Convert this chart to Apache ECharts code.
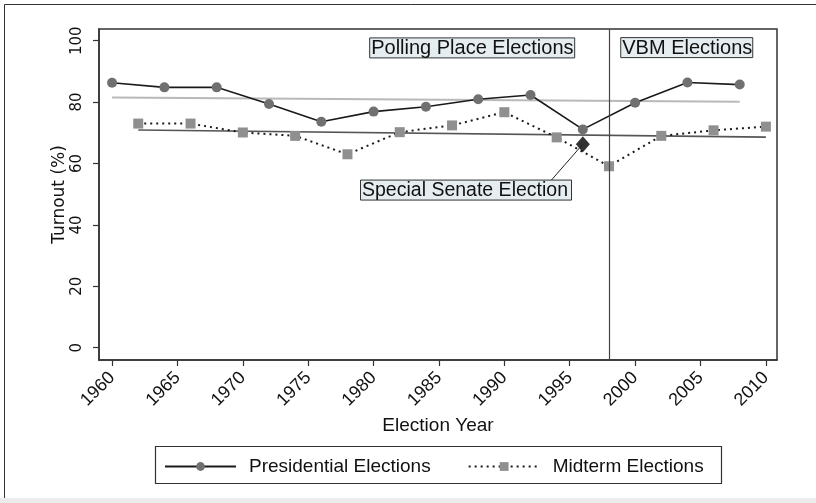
<!DOCTYPE html>
<html>
<head>
<meta charset="utf-8">
<script src="https://cdn.jsdelivr.net/npm/echarts@6/dist/echarts.min.js"></script>
<style>
  html, body { margin: 0; padding: 0; background: #fff; }
  #chart { width: 816px; height: 503px; }
</style>
</head>
<body>
<div id="chart"></div>
<script>
// ---- data ----
var presYears   = [1960, 1964, 1968, 1972, 1976, 1980, 1984, 1988, 1992, 1996, 2000, 2004, 2008];
var presTurnout = [86.3, 84.8, 84.8, 79.4, 73.6, 76.9, 78.5, 80.9, 82.3, 71.1, 79.8, 86.4, 85.7];
var midYears    = [1962, 1966, 1970, 1974, 1978, 1982, 1986, 1990, 1994, 1998, 2002, 2006, 2010];
var midTurnout  = [73.0, 73.0, 70.1, 69.0, 63.0, 70.2, 72.4, 76.7, 68.5, 59.1, 69.0, 70.8, 72.0];
var specialYear = 1996;
var specialTurnout = 66.3;
var presFitYears = [1960, 2008];
var presFitValues = [81.5, 80.1];
var midFitYears = [1962, 2010];
var midFitValues = [70.9, 68.6];
var vbmStartYear = 1998;
var xTicks = [1960, 1965, 1970, 1975, 1980, 1985, 1990, 1995, 2000, 2005, 2010];
var yTicks = [0, 20, 40, 60, 80, 100];
var seriesNames = ['Presidential Elections', 'Midterm Elections'];
var annotationTexts = ['Polling Place Elections', 'VBM Elections', 'Special Senate Election'];

function zip(a, b) { return a.map(function (v, i) { return [v, b[i]]; }); }

var chart = echarts.init(document.getElementById('chart'), null, { renderer: 'canvas' });
var sansFont = '"Liberation Sans", Arial, sans-serif';
var verdFont = '"DejaVu Sans", Verdana, sans-serif';

var option = {
  animation: false,
  backgroundColor: '#ffffff',
  grid: {
    left: 99, right: 39, top: 29, bottom: 143,
    show: true, borderColor: '#333', borderWidth: 1.5, backgroundColor: 'transparent'
  },
  xAxis: {
    type: 'value', min: 1959.0, max: 2010.85,
    name: 'Election Year', nameLocation: 'middle', nameGap: 54,
    nameTextStyle: { fontFamily: sansFont, fontSize: 19, color: '#111' },
    axisLine: { show: true, onZero: false, lineStyle: { color: '#333', width: 1.5 } },
    axisTick: { show: true, length: 6, customValues: xTicks, lineStyle: { color: '#333', width: 1.2 } },
    axisLabel: { rotate: 45, margin: 15, customValues: xTicks, fontFamily: sansFont, fontSize: 18, color: '#111',
      formatter: function (v) { return String(v); } },
    splitLine: { show: false }
  },
  yAxis: {
    type: 'value', min: -4.0, max: 103.8,
    name: 'Turnout (%)', nameLocation: 'middle', nameGap: 31, nameRotate: 90, nameMoveOverlap: false,
    nameTextStyle: { fontFamily: verdFont, fontSize: 17, color: '#111' },
    axisLine: { show: true, onZero: false, lineStyle: { color: '#333', width: 1.5 } },
    axisTick: { show: true, length: 6, customValues: yTicks, lineStyle: { color: '#333', width: 1.2 } },
    axisLabel: { rotate: 90, margin: 14, customValues: yTicks, fontFamily: verdFont, fontSize: 15, color: '#111',
      formatter: function (v) { return String(v); } },
    splitLine: { show: false }
  },
  legend: {
    data: seriesNames,
    left: 164, top: 457, padding: 0,
    itemWidth: 71, itemHeight: 11, itemGap: 37,
    textStyle: { fontFamily: sansFont, fontSize: 19, color: '#111', padding: [0, 0, 0, 8] }
  },
  series: [
    {
      name: 'presFit', type: 'line', data: zip(presFitYears, presFitValues),
      symbol: 'none', lineStyle: { color: '#b9b9b9', width: 2 }, silent: true, z: 1
    },
    {
      name: 'midFit', type: 'line', data: zip(midFitYears, midFitValues),
      symbol: 'none', lineStyle: { color: '#555', width: 1.6 }, silent: true, z: 1
    },
    {
      name: seriesNames[0], type: 'line', data: zip(presYears, presTurnout),
      symbol: 'circle', symbolSize: 10,
      lineStyle: { color: '#1a1a1a', width: 1.6 },
      itemStyle: { color: '#707070' }, z: 3,
      markLine: {
        silent: true, symbol: 'none', label: { show: false },
        lineStyle: { color: '#444', width: 1.2, type: 'solid' },
        data: [{ xAxis: vbmStartYear }]
      }
    },
    {
      name: seriesNames[1], type: 'line', data: zip(midYears, midTurnout),
      symbol: 'rect', symbolSize: 10,
      lineStyle: { color: '#1a1a1a', width: 2, type: [2, 4] },
      itemStyle: { color: '#8f8f8f' }, z: 3
    },
    {
      name: 'special', type: 'scatter', data: [[specialYear, specialTurnout]],
      symbol: 'diamond', symbolSize: [14, 16], itemStyle: { color: '#000' }, z: 4
    }
  ]
};
chart.setOption(option);

function px(x, y) { return chart.convertToPixel({ gridIndex: 0 }, [x, y]); }

// annotation boxes anchored in data space
var boxStyle = { fill: '#e5edf1', stroke: '#333', lineWidth: 1 };
function textBox(x0, y0, w, h, txt, fs) {
  return {
    type: 'group', x: x0, y: y0, children: [
      { type: 'rect', shape: { x: 0, y: 0, width: w, height: h }, style: boxStyle, z: 10 },
      { type: 'text', x: 1.5, y: h / 2 + 1, style: { text: txt, font: fs + 'px ' + sansFont, fill: '#111', textVerticalAlign: 'middle' }, z: 11 }
    ]
  };
}
var pA = px(1979.7, 100.9);
var pB = px(1998.9, 101.0);
var pC = px(1979.0, 54.6);
var pD = px(1993.6, 54.6);
var pS = px(specialYear, specialTurnout);

chart.setOption({
  graphic: [
    // outer frame
    { type: 'line', shape: { x1: 4.5, y1: 4.5, x2: 4.5, y2: 498 }, style: { stroke: '#333', lineWidth: 1 } },
    { type: 'line', shape: { x1: 4.5, y1: 4.5, x2: 816, y2: 4.5 }, style: { stroke: '#333', lineWidth: 1 } },
    { type: 'rect', shape: { x: 0, y: 498, width: 816, height: 5 }, style: { fill: '#ececec' } },
    // legend frame
    { type: 'rect', shape: { x: 155.5, y: 446.5, width: 566, height: 37 }, style: { fill: 'none', stroke: '#333', lineWidth: 1.2 } },
    // arrow to special election point
    { type: 'line', shape: { x1: pD[0], y1: pD[1], x2: pS[0], y2: pS[1] }, style: { stroke: '#222', lineWidth: 1 }, z: 5 },
    textBox(pA[0], pA[1], 205, 20, annotationTexts[0], 20),
    textBox(pB[0], pB[1], 132, 20, annotationTexts[1], 20),
    textBox(pC[0], pC[1], 211, 20, annotationTexts[2], 19.5)
  ]
});
</script>
</body>
</html>
